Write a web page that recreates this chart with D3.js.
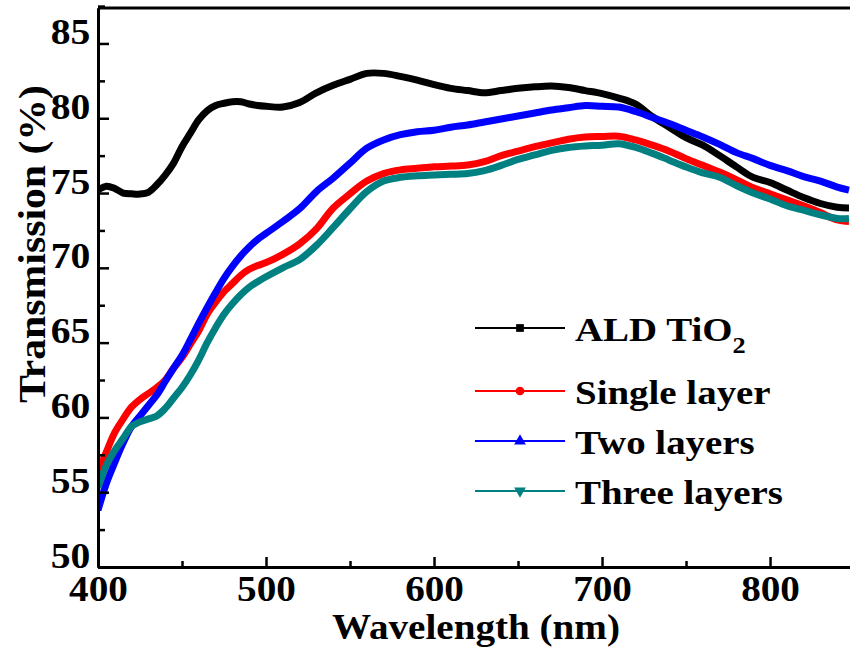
<!DOCTYPE html>
<meta charset="utf-8">
<style>
  body { margin: 0; background: #fff; }
  text { font-family: "Liberation Serif", "Times New Roman", serif; font-weight: bold; }
</style>
<script src="https://d3js.org/d3.v7.min.js"></script>
<div id="chart"></div>
<script>
  // wavelengths (nm) shared by all curves
  var wavelength = [400,405,410,415,420,425,430,435,440,445,450,455,460,465,470,475,480,485,490,495,500,
    510,520,530,540,550,560,570,580,590,600,610,620,630,640,650,660,670,680,690,700,
    710,720,730,740,750,760,770,780,790,800,810,820,830,840,847];

  var ald = [75.2,75.45,75.3,75.0,74.95,74.93,75.05,75.55,76.2,77.0,78.1,79.0,79.9,80.5,80.85,81.0,81.1,81.1,80.95,80.85,80.8,
    80.75,81.05,81.7,82.2,82.6,83.0,83.0,82.8,82.55,82.25,82.0,81.85,81.7,81.85,82.0,82.1,82.15,82.05,81.85,81.65,
    81.35,80.95,80.1,79.4,78.7,78.2,77.5,76.75,76.05,75.7,75.2,74.7,74.3,74.05,74.0];

  var single = [56.3,57.7,59.0,59.9,60.7,61.2,61.6,62.0,62.5,63.3,64.0,64.9,65.8,66.9,67.7,68.4,68.95,69.5,69.9,70.15,70.35,
    70.9,71.6,72.6,74.0,74.95,75.8,76.3,76.55,76.65,76.75,76.8,76.87,77.1,77.5,77.8,78.1,78.35,78.6,78.75,78.78,
    78.8,78.55,78.2,77.8,77.3,76.85,76.4,75.9,75.35,74.95,74.55,74.15,73.7,73.2,73.1];

  var two = [53.8,55.6,57.0,58.3,59.4,60.1,60.8,61.5,62.4,63.3,64.15,65.2,66.3,67.35,68.35,69.3,70.1,70.8,71.4,71.9,72.3,
    73.1,73.95,75.1,76.0,77.0,78.0,78.55,78.9,79.1,79.2,79.4,79.55,79.75,79.95,80.15,80.35,80.55,80.7,80.85,80.8,
    80.75,80.45,80.05,79.65,79.2,78.75,78.25,77.7,77.3,76.85,76.5,76.1,75.8,75.4,75.2];

  var three = [55.3,56.8,57.8,58.6,59.4,59.7,59.9,60.1,60.6,61.3,62.0,62.85,63.85,65.0,66.0,66.9,67.6,68.2,68.7,69.07,69.4,
    70.0,70.55,71.5,72.7,73.95,75.1,75.8,76.05,76.15,76.2,76.25,76.3,76.5,76.85,77.25,77.55,77.85,78.05,78.15,78.2,
    78.3,78.05,77.65,77.2,76.75,76.35,76.05,75.5,75.0,74.6,74.15,73.85,73.55,73.3,73.3];

  var xTicks = [400, 500, 600, 700, 800];
  var yTicks = [50, 55, 60, 65, 70, 75, 80, 85];

  var series = [
    {name: "ALD TiO", sub: "2", values: ald, color: "#000000", marker: "square"},
    {name: "Single layer", values: single, color: "#ff0000", marker: "circle"},
    {name: "Two layers", values: two, color: "#0000ff", marker: "triangle"},
    {name: "Three layers", values: three, color: "#008080", marker: "down"}
  ];

  var W = 850, H = 652;
  var margin = {top: 8, right: 0, bottom: 85, left: 98};
  var width = W - margin.left - margin.right,
      height = H - margin.top - margin.bottom;

  var svg = d3.select("#chart").append("svg")
      .attr("width", W).attr("height", H);

  var g = svg.append("g")
      .attr("transform", "translate(" + margin.left + "," + margin.top + ")");

  var x = d3.scaleLinear().domain([400, 847.6]).range([0, width]);
  var y = d3.scaleLinear().domain([50, 87.37]).range([height, 0]);

  svg.append("clipPath").attr("id", "clip")
    .append("rect").attr("width", width).attr("height", height);

  var line = d3.line()
      .x(function(d) { return x(d[0]); })
      .y(function(d) { return y(d[1]); })
      .curve(d3.curveCatmullRom);

  var plot = g.append("g").attr("clip-path", "url(#clip)");
  series.forEach(function(s) {
    plot.append("path")
      .datum(wavelength.map(function(w, i) { return [w, s.values[i]]; }))
      .attr("fill", "none")
      .attr("stroke", s.color)
      .attr("stroke-width", 7)
      .attr("stroke-linejoin", "round")
      .attr("d", line);
  });

  // axes, ticks point inwards
  var xAxis = g.append("g")
      .attr("transform", "translate(0," + height + ")")
      .call(d3.axisBottom(x).tickValues(xTicks).tickSizeInner(-10).tickSizeOuter(0).tickPadding(10));
  g.append("g")
      .attr("transform", "translate(0," + height + ")")
      .call(d3.axisBottom(x).tickValues([450, 550, 650, 750, 850]).tickSizeInner(-6).tickSizeOuter(0).tickFormat(""));
  var yAxis = g.append("g")
      .call(d3.axisLeft(y).tickValues(yTicks).tickSizeInner(-11).tickSizeOuter(0).tickPadding(8));
  g.append("g")
      .call(d3.axisLeft(y).tickValues([52.5, 57.5, 62.5, 67.5, 72.5, 77.5, 82.5, 87.5]).tickSizeInner(-7).tickSizeOuter(0).tickFormat(""));

  g.selectAll(".domain").attr("stroke", "#000").attr("stroke-width", 3);
  g.selectAll(".tick line").attr("stroke", "#000").attr("stroke-width", 2.5);
  xAxis.selectAll("text").attr("font-size", 35).attr("fill", "#000")
      .attr("font-family", "Liberation Serif").attr("font-weight", "bold")
      .attr("y", 0).attr("dy", 34)
      .attr("transform", "scale(1.12,1)");
  yAxis.selectAll("text").attr("font-size", 36).attr("fill", "#000")
      .attr("font-family", "Liberation Serif").attr("font-weight", "bold")
      .attr("x", -7).attr("dy", 0)
      .attr("transform", "scale(1.1,1)");

  // top frame line
  g.append("line").attr("x1", 0).attr("x2", width).attr("y1", 0).attr("y2", 0)
      .attr("stroke", "#000").attr("stroke-width", 3);

  // axis titles
  svg.append("text")
      .attr("x", 476).attr("y", 639)
      .attr("text-anchor", "middle")
      .attr("font-size", 35)
      .attr("textLength", 288).attr("lengthAdjust", "spacingAndGlyphs")
      .text("Wavelength (nm)");
  svg.append("text")
      .attr("transform", "translate(45,244) rotate(-90)")
      .attr("text-anchor", "middle")
      .attr("font-size", 38)
      .attr("textLength", 318).attr("lengthAdjust", "spacingAndGlyphs")
      .text("Transmission (%)");

  // legend
  var legY = [328, 391, 441, 491];
  var sym = {square: d3.symbolSquare, circle: d3.symbolCircle, triangle: d3.symbolTriangle};
  var legend = svg.append("g");
  series.forEach(function(s, i) {
    var row = legend.append("g").attr("transform", "translate(0," + legY[i] + ")");
    row.append("line").attr("x1", 475).attr("x2", 565)
      .attr("stroke", s.color).attr("stroke-width", 2);
    var type = s.marker === "down" ? d3.symbolTriangle : sym[s.marker];
    row.append("path")
      .attr("d", d3.symbol().type(type).size(60))
      .attr("fill", s.color)
      .attr("transform", "translate(520,0)" + (s.marker === "down" ? " rotate(180)" : ""));
    var t = row.append("text")
      .attr("transform", "translate(575,13) scale(1.145,1)")
      .attr("font-size", 34).text(s.name);
    if (s.sub) {
      t.append("tspan").attr("font-size", 23).attr("dy", 12).text(s.sub);
    }
  });
</script>
